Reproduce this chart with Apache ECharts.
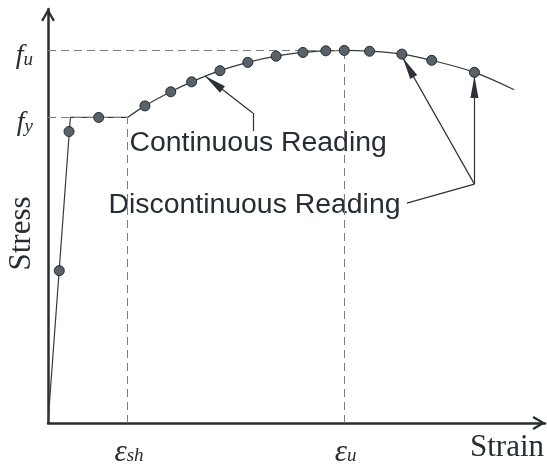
<!DOCTYPE html>
<html><head><meta charset="utf-8">
<script src="https://cdn.jsdelivr.net/npm/echarts@6/dist/echarts.min.js"></script>
<style>html,body{margin:0;padding:0;background:#fff}#c{width:547px;height:464px}</style>
</head><body><div id="c"></div>
<script>
// Idealised stress-strain curve (arbitrary units)
const elasticStrain = [0, 4.5, 16.0];
const elasticStress = [0, 73.8, 73.8];
const hardeningStrain = [16.0, 19.5, 24.7, 28.9, 34.6, 40.2, 45.9, 51.3, 55.9, 59.6, 64.7, 71.2, 77.2, 85.8, 93.8];
const hardeningStress = [73.8, 76.6, 80.0, 82.4, 85.1, 87.1, 88.6, 89.5, 89.9, 90.0, 89.8, 89.1, 87.6, 84.7, 80.5];
const readingStrain = [2.27, 4.23, 10.2, 19.5, 24.7, 28.9, 34.6, 40.2, 45.9, 51.3, 55.9, 59.6, 64.7, 71.2, 77.2, 85.8];
const readingStress = [36.8, 70.4, 73.8, 76.6, 80.0, 82.4, 85.1, 87.1, 88.6, 89.5, 89.9, 90.0, 89.8, 89.1, 87.6, 84.7];
const fy = 73.8, fu = 90.0, esh = 16.0, eu = 59.6;
const stressTicks = [fy, fu];
const stressTickLabels = ['{f|f}{s|y}', '{f|f}{s|u}'];
const strainTicks = [esh, eu];
const strainTickLabels = ['{e|ε}{s|sh}', '{e|ε}{s|u}'];
// annotation leader lines (data units)
const contLeader = [[41.2, 70.5], [41.2, 74.9]];
const contArrow = [[41.2, 74.9], [31.6, 83.8]];
const discLeader = [[72.2, 53.1], [85.8, 57.7]];
const discArrow1 = [[85.8, 57.7], [71.4, 88.2]];
const discArrow2 = [[85.8, 57.7], [85.8, 83.8]];
const annotationTexts = ['Continuous Reading', 'Discontinuous Reading'];

const dark = '#272d33';
const zip = (a, b) => a.map((v, i) => [v, b[i]]);
const pickLabel = (ticks, labels) => v => {
  for (let i = 0; i < ticks.length; i++) if (Math.abs(v - ticks[i]) < 1e-6) return labels[i];
  return '';
};
const chevron = 'path://M0,12 L7,0 L14,12 L12,13.2 L7,4.4 L2,13.2 Z';
const arrowEnd = (p) => ({coord: p, symbol: 'triangle', symbolSize: [8, 22], symbolOffset: [0, 11]});
const plain = (p) => ({coord: p, symbol: 'none'});

const chart = echarts.init(document.getElementById('c'), null, {renderer: 'canvas'});
chart.setOption({
  animation: false,
  backgroundColor: '#fff',
  grid: {left: 48, right: 2, top: 9, bottom: 41, containLabel: false, outerBoundsMode: 'none'},
  xAxis: {
    type: 'value', min: 0, max: 100,
    name: 'Strain', nameLocation: 'end', nameGap: -1, nameMoveOverlap: false,
    nameTextStyle: {fontFamily: 'Liberation Serif', fontSize: 31, color: dark, align: 'right', verticalAlign: 'top', padding: [9, 0, 0, 0]},
    axisLine: {show: true, symbol: ['none', chevron], symbolSize: [14, 13], symbolOffset: [0, -6], lineStyle: {color: dark, width: 2.5}},
    axisTick: {show: false},
    splitLine: {show: false},
    axisLabel: {
      customValues: strainTicks, formatter: pickLabel(strainTicks, strainTickLabels), margin: 14, color: dark,
      padding: [0, 0, 0, 3],
      rich: {
        e: {fontFamily: 'Liberation Serif', fontStyle: 'italic', fontSize: 31, lineHeight: 28, verticalAlign: 'top', color: dark},
        s: {fontFamily: 'Liberation Serif', fontStyle: 'italic', fontSize: 19, lineHeight: 19, padding: [9, 0, 0, 0], verticalAlign: 'top', color: dark}
      }
    }
  },
  yAxis: {
    type: 'value', min: 0, max: 100,
    name: 'Stress', nameLocation: 'middle', nameGap: 11, nameRotate: 90, nameMoveOverlap: false,
    nameTextStyle: {fontFamily: 'Liberation Serif', fontSize: 31, color: dark, padding: [0, 35, 0, 0]},
    axisLine: {show: true, symbol: ['none', chevron], symbolSize: [14, 13], symbolOffset: [0, -6], lineStyle: {color: dark, width: 2.5}},
    axisTick: {show: false},
    splitLine: {show: false},
    axisLabel: {
      customValues: stressTicks, formatter: pickLabel(stressTicks, stressTickLabels), margin: 15, color: dark,
      padding: [10, 0, 0, 0],
      rich: {
        f: {fontFamily: 'Liberation Serif', fontStyle: 'italic', fontSize: 28, lineHeight: 27, verticalAlign: 'top', color: dark},
        s: {fontFamily: 'Liberation Serif', fontStyle: 'italic', fontSize: 19, lineHeight: 19, padding: [9, 0, 0, 0], verticalAlign: 'top', color: dark}
      }
    }
  },
  series: [
    {
      name: 'elastic', type: 'line', data: zip(elasticStrain, elasticStress), showSymbol: false, symbol: 'none',
      lineStyle: {color: '#333940', width: 1.2}, z: 3,
      markLine: {
        silent: true, symbol: ['none', 'none'], label: {show: false},
        lineStyle: {color: '#7d7d7d', width: 1, type: [8, 5]},
        emphasis: {disabled: true},
        data: [
          [{coord: [0, fu]}, {coord: [eu, fu]}],
          [{coord: [0, fy]}, {coord: [esh, fy]}],
          [{coord: [esh, 0]}, {coord: [esh, fy]}],
          [{coord: [eu, 0]}, {coord: [eu, fu]}]
        ]
      }
    },
    {
      name: 'hardening', type: 'line', data: zip(hardeningStrain, hardeningStress), showSymbol: false, symbol: 'none', smooth: 0.35,
      lineStyle: {color: '#333940', width: 1.2}, z: 3,
      markLine: {
        silent: true, label: {show: false},
        lineStyle: {color: '#2c3238', width: 1.2, type: 'solid'},
        emphasis: {disabled: true},
        data: [
          [plain(contLeader[0]), plain(contLeader[1])],
          [plain(contArrow[0]), arrowEnd(contArrow[1])],
          [plain(discLeader[0]), plain(discLeader[1])],
          [plain(discArrow1[0]), arrowEnd(discArrow1[1])],
          [plain(discArrow2[0]), arrowEnd(discArrow2[1])]
        ]
      }
    },
    {
      name: 'readings', type: 'scatter', data: zip(readingStrain, readingStress), symbol: 'circle', symbolSize: 10, z: 10,
      itemStyle: {color: '#5b6169', borderColor: '#24292e', borderWidth: 1, opacity: 1}
    }
  ],
  graphic: [
    {type: 'text', left: 129.5, top: 129.5, style: {text: annotationTexts[0], font: '28.4px "Liberation Sans"', fill: dark}},
    {type: 'text', left: 108.5, top: 191.5, style: {text: annotationTexts[1], font: '28.4px "Liberation Sans"', fill: dark}}
  ]
});
</script></body></html>
